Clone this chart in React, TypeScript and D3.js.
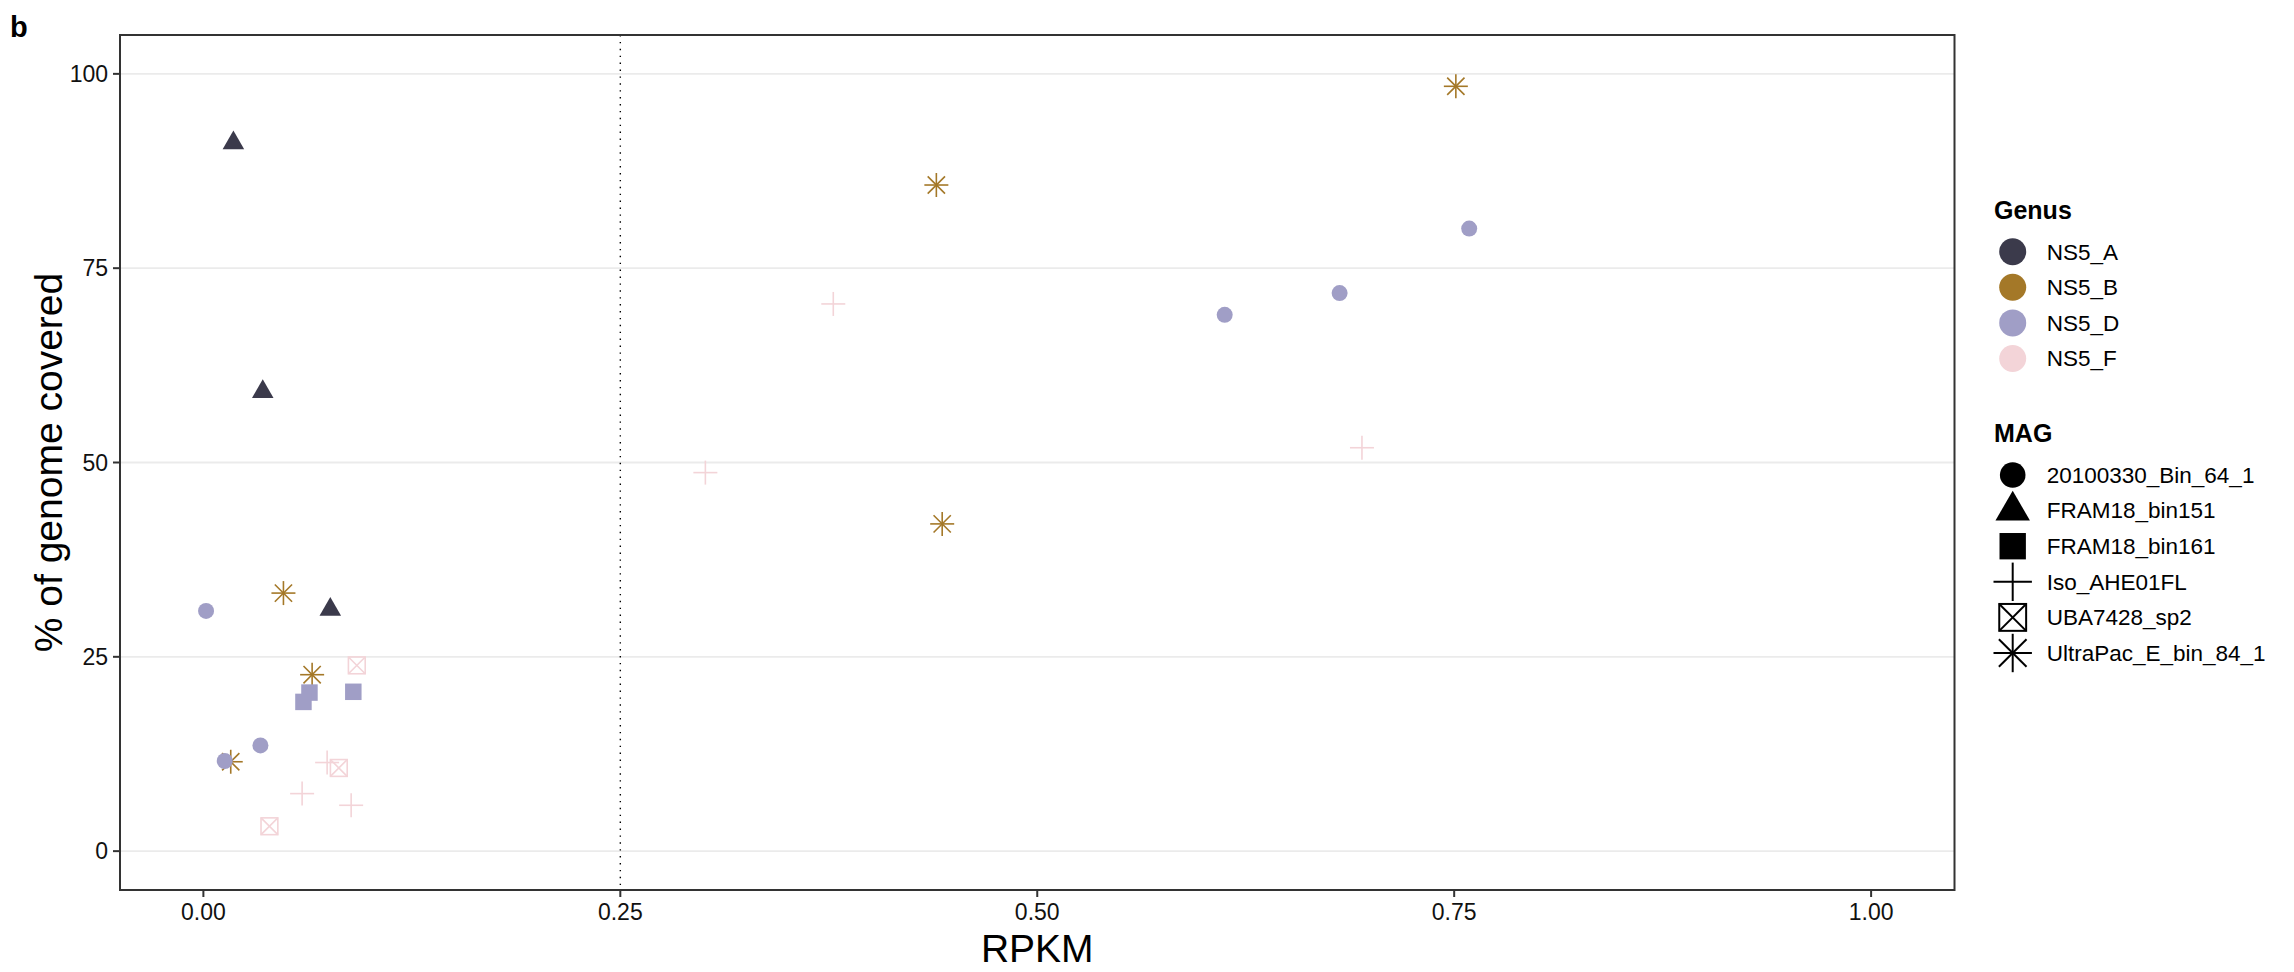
import React from "react";
import * as d3 from "d3";

// ---- data ----
const genera = ["NS5_A", "NS5_B", "NS5_D", "NS5_F"];
const genusColors = ["#3b3a4b", "#a47828", "#a09ec6", "#f3d4d8"];
const mags = [
  "20100330_Bin_64_1",
  "FRAM18_bin151",
  "FRAM18_bin161",
  "Iso_AHE01FL",
  "UBA7428_sp2",
  "UltraPac_E_bin_84_1",
];
const magShapes = ["circle", "triangle", "square", "cross", "boxx", "star"];

const pointGenus = [
  "NS5_B", "NS5_B", "NS5_B", "NS5_B", "NS5_B", "NS5_B",
  "NS5_A", "NS5_A", "NS5_A",
  "NS5_D", "NS5_D", "NS5_D", "NS5_D", "NS5_D", "NS5_D",
  "NS5_D", "NS5_D", "NS5_D",
  "NS5_F", "NS5_F", "NS5_F", "NS5_F", "NS5_F", "NS5_F",
  "NS5_F", "NS5_F", "NS5_F",
];
const pointMag = [
  "UltraPac_E_bin_84_1", "UltraPac_E_bin_84_1", "UltraPac_E_bin_84_1",
  "UltraPac_E_bin_84_1", "UltraPac_E_bin_84_1", "UltraPac_E_bin_84_1",
  "FRAM18_bin151", "FRAM18_bin151", "FRAM18_bin151",
  "20100330_Bin_64_1", "20100330_Bin_64_1", "20100330_Bin_64_1",
  "20100330_Bin_64_1", "20100330_Bin_64_1", "20100330_Bin_64_1",
  "FRAM18_bin161", "FRAM18_bin161", "FRAM18_bin161",
  "Iso_AHE01FL", "Iso_AHE01FL", "Iso_AHE01FL",
  "Iso_AHE01FL", "Iso_AHE01FL", "Iso_AHE01FL",
  "UBA7428_sp2", "UBA7428_sp2", "UBA7428_sp2",
];
const pointRpkm = [
  0.048, 0.0652, 0.0164, 0.443, 0.751, 0.4395,
  0.018, 0.0356, 0.0761,
  0.0016, 0.0128, 0.0342, 0.6124, 0.6813, 0.759,
  0.0636, 0.060, 0.0899,
  0.0742, 0.0592, 0.0886, 0.3777, 0.301, 0.6947,
  0.092, 0.0812, 0.0396,
];
const pointCoverage = [
  33.2, 22.7, 11.5, 42.1, 98.4, 85.7,
  91.1, 59.1, 31.1,
  30.9, 11.6, 13.6, 69.0, 71.8, 80.1,
  20.4, 19.2, 20.5,
  11.4, 7.4, 5.9, 70.4, 48.7, 51.9,
  23.9, 10.7, 3.2,
];
const xTicks = [0, 0.25, 0.5, 0.75, 1.0];
const yTicks = [0, 25, 50, 75, 100];
const vlineX = 0.25;

// ---- layout ----
const W = 2294;
const H = 972;
const PL = 120, PR = 1954.5, PT = 35, PB = 890;
const FONT = "'Liberation Sans', Arial, Helvetica, sans-serif";

function Shape({ shape, x, y, s, color, lw }: any) {
  switch (shape) {
    case "circle":
      return <circle cx={x} cy={y} r={s} fill={color} />;
    case "triangle": {
      const top = 1.555 * s, bot = 0.778 * s, hw = 1.347 * s;
      return (
        <polygon
          points={`${x},${y - top} ${x + hw},${y + bot} ${x - hw},${y + bot}`}
          fill={color}
        />
      );
    }
    case "square": {
      const h = s * 1.03;
      return <rect x={x - h} y={y - h} width={2 * h} height={2 * h} fill={color} />;
    }
    case "cross": {
      const a = s * 1.5;
      return (
        <g stroke={color} strokeWidth={lw}>
          <line x1={x - a} y1={y} x2={x + a} y2={y} />
          <line x1={x} y1={y - a} x2={x} y2={y + a} />
        </g>
      );
    }
    case "boxx": {
      const h = s * 1.05;
      return (
        <g stroke={color} strokeWidth={lw} fill="none">
          <rect x={x - h} y={y - h} width={2 * h} height={2 * h} />
          <line x1={x - h} y1={y - h} x2={x + h} y2={y + h} />
          <line x1={x - h} y1={y + h} x2={x + h} y2={y - h} />
        </g>
      );
    }
    case "star": {
      const a = s * 1.5;
      const d = a * 0.72;
      return (
        <g stroke={color} strokeWidth={lw}>
          <line x1={x - a} y1={y} x2={x + a} y2={y} />
          <line x1={x} y1={y - a} x2={x} y2={y + a} />
          <line x1={x - d} y1={y - d} x2={x + d} y2={y + d} />
          <line x1={x - d} y1={y + d} x2={x + d} y2={y - d} />
        </g>
      );
    }
  }
  return null;
}

export default function App() {
  const x = d3.scaleLinear().domain([-0.05, 1.05]).range([PL, PR]);
  const y = d3.scaleLinear().domain([-5, 105]).range([PB, PT]);
  const color = d3.scaleOrdinal<string, string>().domain(genera).range(genusColors);
  const shapeOf = d3.scaleOrdinal<string, string>().domain(mags).range(magShapes);

  const points = pointRpkm.map((r, i) => ({
    rpkm: r,
    cov: pointCoverage[i],
    genus: pointGenus[i],
    mag: pointMag[i],
  }));

  const legX = 2012.7;
  const legTextX = 2046.7;
  const genusY0 = 251.7;
  const magY0 = 475;
  const step = 35.6;

  return (
    <svg
      width={W}
      height={H}
      style={{ position: "absolute", left: 0, top: 0, background: "#fff" }}
      fontFamily={FONT}
    >
      <rect x={0} y={0} width={W} height={H} fill="#fff" />
      <text x={10} y={36.5} fontSize={29} fontWeight="bold" fill="#000">b</text>

      {/* grid */}
      {yTicks.map((t) => (
        <line key={"g" + t} x1={PL} x2={PR} y1={y(t)} y2={y(t)} stroke="#ebebeb" strokeWidth={1.8} />
      ))}

      {/* dotted vertical line */}
      <line
        x1={x(vlineX)}
        x2={x(vlineX)}
        y1={PT}
        y2={PB}
        stroke="#000"
        strokeWidth={1.4}
        strokeDasharray="1.4 5.5"
      />

      {/* points */}
      {points.map((p, i) => (
        <Shape
          key={i}
          shape={shapeOf(p.mag)}
          x={x(p.rpkm)}
          y={y(p.cov)}
          s={8}
          color={color(p.genus)}
          lw={1.6}
        />
      ))}

      {/* panel border */}
      <rect x={PL} y={PT} width={PR - PL} height={PB - PT} fill="none" stroke="#333" strokeWidth={2} />

      {/* y axis ticks */}
      {yTicks.map((t) => (
        <g key={"y" + t}>
          <line x1={PL - 7} x2={PL} y1={y(t)} y2={y(t)} stroke="#333" strokeWidth={2} />
          <text x={108} y={y(t) + 8} fontSize={23} textAnchor="end" fill="#111">
            {d3.format("d")(t)}
          </text>
        </g>
      ))}
      {/* x axis ticks */}
      {xTicks.map((t) => (
        <g key={"x" + t}>
          <line x1={x(t)} x2={x(t)} y1={PB} y2={PB + 7} stroke="#333" strokeWidth={2} />
          <text x={x(t)} y={920} fontSize={23} textAnchor="middle" fill="#111">
            {d3.format(".2f")(t)}
          </text>
        </g>
      ))}

      {/* axis titles */}
      <text x={(PL + PR) / 2} y={962} fontSize={39} textAnchor="middle" fill="#000">RPKM</text>
      <text
        transform={`translate(61.5, ${(PT + PB) / 2}) rotate(-90)`}
        fontSize={39}
        textAnchor="middle"
        fill="#000"
      >
        % of genome covered
      </text>

      {/* legend: Genus */}
      <text x={1994} y={219} fontSize={25} fontWeight="bold" fill="#000">Genus</text>
      {genera.map((g, i) => (
        <g key={g}>
          <circle cx={legX} cy={genusY0 + i * step} r={13.5} fill={color(g)} />
          <text x={legTextX} y={genusY0 + i * step + 7.8} fontSize={22.5} fill="#000">{g}</text>
        </g>
      ))}

      {/* legend: MAG */}
      <text x={1994} y={441.7} fontSize={25} fontWeight="bold" fill="#000">MAG</text>
      {mags.map((m, i) => (
        <g key={m}>
          <Shape shape={shapeOf(m)} x={legX} y={magY0 + i * step} s={12.8} color="#000" lw={2} />
          <text x={legTextX} y={magY0 + i * step + 7.8} fontSize={22.5} fill="#000">{m}</text>
        </g>
      ))}
    </svg>
  );
}
